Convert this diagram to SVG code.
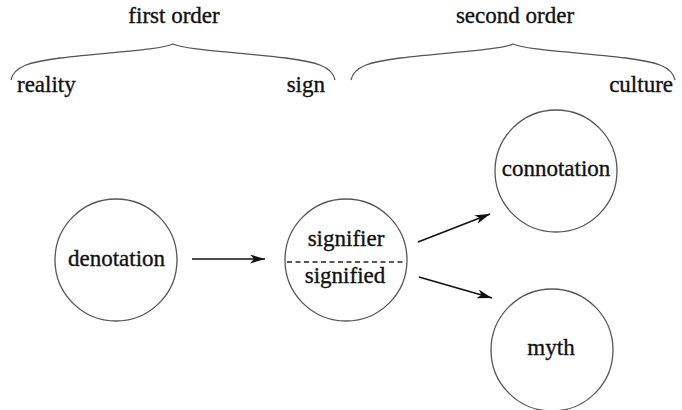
<svg xmlns="http://www.w3.org/2000/svg" width="682" height="410" viewBox="0 0 682 410">
<defs>
<style>
text{font-family:'Liberation Serif','DejaVu Serif','Times New Roman',serif;font-size:23px;fill:#111;stroke:#111;stroke-width:0.35}
.node text{text-anchor:middle}
.c{fill:#fff;stroke:#555;stroke-width:1.3}
.brace{fill:none;stroke:#555;stroke-width:1.3}
.arr{fill:none;stroke:#111;stroke-width:1.6}
</style>
<marker id="ah" markerUnits="userSpaceOnUse" markerWidth="16" markerHeight="10" refX="15" refY="4.5" orient="auto">
<path d="M0,0 L15,4.5 L0,9 L4,4.5 z" fill="#111"/>
</marker>
<path id="br" class="brace" d="M11,80 C14,66 30,62 60,58 C110,52 160,50 173,44 C186,50 236,52 286,58 C316,62 332,66 335,80"/>
</defs>
<rect width="682" height="410" fill="#fff"/>
<g id="header">
<use href="#br"/>
<use href="#br" transform="translate(340,0)"/>
<text x="174" y="23" text-anchor="middle">first order</text>
<text x="515" y="23" text-anchor="middle">second order</text>
<text x="17" y="92">reality</text>
<text x="325" y="92" text-anchor="end">sign</text>
<text x="673" y="92" text-anchor="end">culture</text>
</g>
<g id="connectors">
<path class="arr" d="M192,259 L265,259" marker-end="url(#ah)"/>
<path class="arr" d="M418,242 L490,214" marker-end="url(#ah)"/>
<path class="arr" d="M419,277 L492,298" marker-end="url(#ah)"/>
</g>
<g id="denotation" class="node">
<circle class="c" cx="116" cy="260" r="61"/>
<text x="116.5" y="266">denotation</text>
</g>
<g id="sign" class="node">
<circle class="c" cx="346" cy="260" r="61"/>
<line x1="287" y1="262" x2="405" y2="262" stroke="#222" stroke-width="1.3" stroke-dasharray="5 3.5"/>
<text x="346" y="246">signifier</text>
<text x="345" y="283">signified</text>
</g>
<g id="connotation" class="node">
<circle class="c" cx="556" cy="171" r="61"/>
<text x="556" y="176">connotation</text>
</g>
<g id="myth" class="node">
<circle class="c" cx="552" cy="350" r="61"/>
<text x="551" y="355">myth</text>
</g>
</svg>
